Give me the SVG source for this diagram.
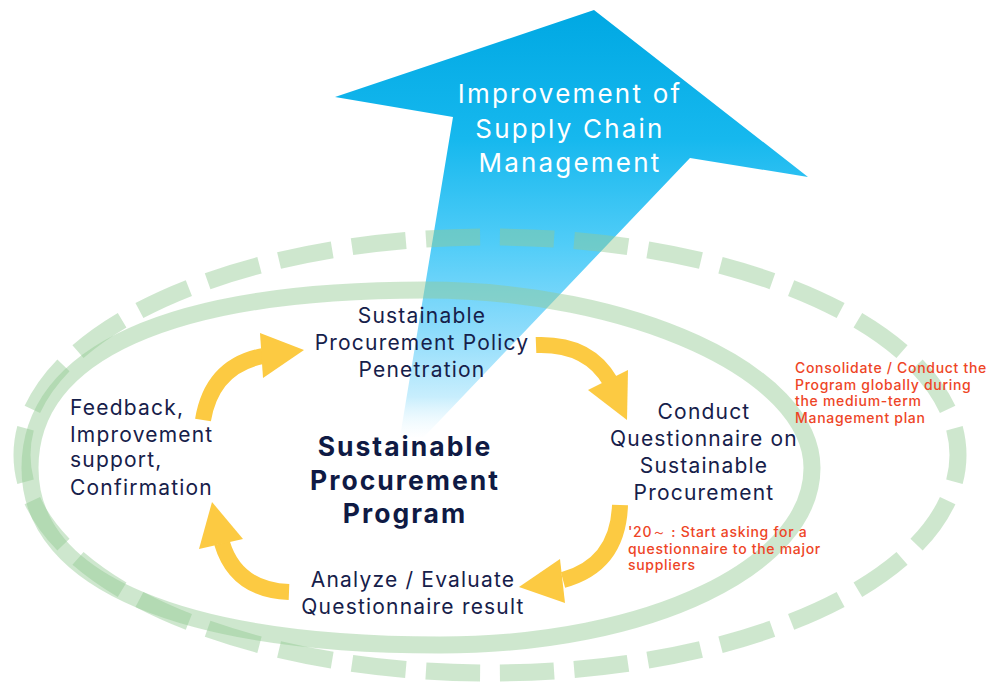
<svg xmlns="http://www.w3.org/2000/svg" width="996" height="682" viewBox="0 0 996 682">
  <defs>
    <linearGradient id="blueGrad" gradientUnits="userSpaceOnUse" x1="0" y1="10" x2="0" y2="440">
      <stop offset="0" stop-color="#00a8e3"/>
      <stop offset="0.3" stop-color="#16b8ee"/>
      <stop offset="0.55" stop-color="#52cdf8"/>
      <stop offset="0.75" stop-color="#8edcfb"/>
      <stop offset="0.9" stop-color="#c8eefd"/>
      <stop offset="1" stop-color="#ffffff" stop-opacity="0.3"/>
    </linearGradient>
    <style>
      .ring { fill: none; stroke: #92c992; stroke-opacity: 0.45; stroke-width: 17; }
      .shaft { fill: none; stroke: #fcca42; stroke-width: 16; stroke-linecap: butt; }
      .head { fill: #fcca42; }
      .lbl { font-family: Inter, "Noto Sans", "Liberation Sans", sans-serif; font-size: 21px; fill: #16204a; letter-spacing: 1.2px; }
      .mid { text-anchor: middle; }
      .title { font-family: Inter, "Noto Sans", "Liberation Sans", sans-serif; font-size: 26.5px; font-weight: 700; fill: #0f1a44; letter-spacing: 2px; text-anchor: middle; }
      .scm { font-family: Inter, "Noto Sans", "Liberation Sans", sans-serif; font-size: 26px; fill: #ffffff; letter-spacing: 2.2px; text-anchor: middle; }
      .note { font-family: Inter, "Noto Sans", "Liberation Sans", sans-serif; font-size: 14px; font-weight: 500; fill: #ee4526; letter-spacing: 0.7px; }
    </style>
  </defs>
  <rect width="996" height="682" fill="#ffffff"/>

  <g id="node-scm">
    <polygon points="594,10 808,177 690,158 424,437 400,437 453,117 335,97" fill="url(#blueGrad)"/>
  </g>

  <g id="rings">
    <ellipse class="ring" cx="490" cy="455" rx="468" ry="218" pathLength="300" stroke-dasharray="7.3 2.7" stroke-dashoffset="3.65"/>
    <path class="ring" d="M 425 290 C 630 290 812 372 812 468 C 812 566 650 645 440 645 C 190 645 30 585 30 468 C 30 353 170 290 425 290 Z"/>
  </g>

  <g id="connectors">
    <path class="shaft" d="M 203 420 Q 212 366 263 356"/>
    <polygon class="head" points="260,333 304,350 263,378"/>
    <path class="shaft" d="M 536 345 Q 588 343 610 381"/>
    <polygon class="head" points="588,390 628,370 627,420"/>
    <path class="shaft" d="M 620 505 Q 618 565 563 580"/>
    <polygon class="head" points="560,559 565,603 519,587"/>
    <path class="shaft" d="M 289 592 Q 236 590 222 543"/>
    <polygon class="head" points="199,549 243,539 212,502"/>
  </g>

  <g id="node-scm-label">
    <text class="scm" x="570" y="103">Improvement of</text>
    <text class="scm" x="570" y="137.5">Supply Chain</text>
    <text class="scm" x="570" y="172">Management</text>
  </g>

  <g id="node-policy">
    <text class="lbl mid" x="422" y="323">Sustainable</text>
    <text class="lbl mid" x="422" y="350">Procurement Policy</text>
    <text class="lbl mid" x="422" y="377">Penetration</text>
  </g>

  <g id="node-questionnaire">
    <text class="lbl mid" x="704" y="419">Conduct</text>
    <text class="lbl mid" x="704" y="446">Questionnaire on</text>
    <text class="lbl mid" x="704" y="473">Sustainable</text>
    <text class="lbl mid" x="704" y="500">Procurement</text>
  </g>

  <g id="node-analyze">
    <text class="lbl mid" x="413" y="587">Analyze / Evaluate</text>
    <text class="lbl mid" x="413" y="614">Questionnaire result</text>
  </g>

  <g id="node-feedback">
    <text class="lbl" x="70" y="415">Feedback,</text>
    <text class="lbl" x="70" y="442">Improvement</text>
    <text class="lbl" x="70" y="467">support,</text>
    <text class="lbl" x="70" y="495">Confirmation</text>
  </g>

  <g id="node-center">
    <text class="title" x="405" y="456">Sustainable</text>
    <text class="title" x="405" y="490">Procurement</text>
    <text class="title" x="405" y="523">Program</text>
  </g>

  <g id="note-global">
    <text class="note" x="795" y="373">Consolidate / Conduct the</text>
    <text class="note" x="795" y="389.5">Program globally during</text>
    <text class="note" x="795" y="406">the medium-term</text>
    <text class="note" x="795" y="422.5">Management plan</text>
  </g>

  <g id="note-2020">
    <text class="note" x="628" y="537">'20～ : Start asking for a</text>
    <text class="note" x="628" y="553.5">questionnaire to the major</text>
    <text class="note" x="628" y="570">suppliers</text>
  </g>
</svg>
